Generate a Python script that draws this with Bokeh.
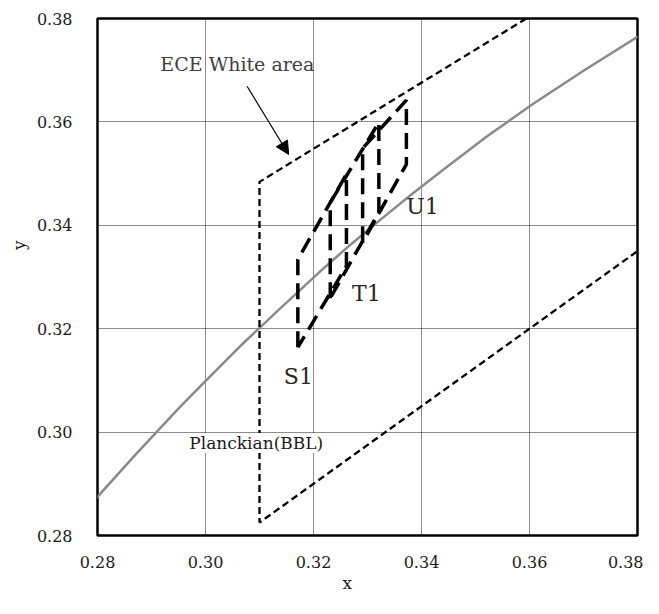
from bokeh.plotting import figure
from bokeh.models import Range1d, FixedTicker, NumeralTickFormatter, Label, Arrow, NormalHead, Title
from bokeh.embed import file_html
from bokeh.resources import INLINE

# ---- data ----
ticks = [0.28, 0.30, 0.32, 0.34, 0.36, 0.38]

# Planckian locus (black body line)
planck_x = [0.2758, 0.2807, 0.2870, 0.2952, 0.3004, 0.3064, 0.3135, 0.3220, 0.3269,
            0.3323, 0.3383, 0.3451, 0.3524, 0.3607, 0.3700, 0.3805]
planck_y = [0.2824, 0.2883, 0.2956, 0.3048, 0.3103, 0.3166, 0.3236, 0.3318, 0.3363,
            0.3410, 0.3461, 0.3516, 0.3574, 0.3635, 0.3699, 0.3768]

# ECE white area boundary
ece_x = [0.3594, 0.3100, 0.3100, 0.3800]
ece_y = [0.3800, 0.3484, 0.2825, 0.3350]

# bins
bin_names = ["S1", "T1", "U1"]
s1_x = [0.3171, 0.3171, 0.3261, 0.3261, 0.3171]
s1_y = [0.3164, 0.3334, 0.3499, 0.3321, 0.3164]
t1_x = [0.3231, 0.3231, 0.3321, 0.3321, 0.3231]
t1_y = [0.3259, 0.3444, 0.3599, 0.3425, 0.3259]
u1_x = [0.3291, 0.3291, 0.3372, 0.3372, 0.3291]
u1_y = [0.3367, 0.3549, 0.3642, 0.3518, 0.3367]

# annotation anchors
bin_label_x = [0.3172, 0.3298, 0.3402]
bin_label_y = [0.3108, 0.3269, 0.3437]
ece_label_xy = (0.3059, 0.3712)
planck_label_xy = (0.3094, 0.2979)
arrow_start = (0.3077, 0.3669)
arrow_end = (0.3154, 0.3537)

FONT = "DejaVu Serif"

p = figure(width=643, height=598,
           x_range=Range1d(0.28, 0.38), y_range=Range1d(0.28, 0.38),
           output_backend="svg", toolbar_location=None,
           min_border_left=97, min_border_right=6,
           min_border_top=18, min_border_bottom=63)

p.background_fill_color = "white"
p.border_fill_color = "white"
p.outline_line_color = "black"
p.outline_line_width = 2.5

for ax in (p.xaxis, p.yaxis):
    ax.ticker = FixedTicker(ticks=ticks)
    ax.formatter = NumeralTickFormatter(format="0.00")
    ax.axis_line_color = None
    ax.major_tick_line_color = None
    ax.minor_tick_line_color = None
    ax.major_tick_out = 0
    ax.major_tick_in = 0
    ax.minor_tick_out = 0
    ax.minor_tick_in = 0
    ax.major_label_text_font = FONT
    ax.major_label_text_font_size = "16px"
    ax.major_label_text_color = "#1a1a1a"
p.xaxis.major_label_standoff = 20
p.yaxis.major_label_standoff = 25

for g in (p.xgrid, p.ygrid):
    g.ticker = FixedTicker(ticks=ticks)
    g.grid_line_color = "#1a1a1a"
    g.grid_line_dash = "1 1"
    g.grid_line_width = 1

# Planckian curve
p.line(planck_x, planck_y, line_color="#8a8a8a", line_width=2.5)

# ECE white area
p.line(ece_x, ece_y, line_color="black", line_width=2.3, line_dash="7 4")

# bins
p.multi_line([s1_x, t1_x, u1_x], [s1_y, t1_y, u1_y],
             line_color="black", line_width=3.5, line_dash="16 8")

for name, lx, ly in zip(bin_names, bin_label_x, bin_label_y):
    p.add_layout(Label(x=lx, y=ly, text=name, text_font=FONT, text_font_size="22px",
                       text_color="#262626", text_align="center", text_baseline="middle"))

p.add_layout(Label(x=ece_label_xy[0], y=ece_label_xy[1], text="ECE White area",
                   text_font=FONT, text_font_size="19px", text_color="#404040",
                   text_align="center", text_baseline="middle"))

p.add_layout(Label(x=planck_label_xy[0], y=planck_label_xy[1], text="Planckian(BBL)",
                   text_font=FONT, text_font_size="17px", text_color="#1a1a1a",
                   text_align="center", text_baseline="middle",
                   background_fill_color="white"))

p.add_layout(Arrow(end=NormalHead(size=13, fill_color="black", line_color="black"),
                   x_start=arrow_start[0], y_start=arrow_start[1],
                   x_end=arrow_end[0], y_end=arrow_end[1],
                   line_color="black", line_width=1.2))

# axis titles
p.add_layout(Title(text="x", align="left", offset=245, standoff=0,
                   text_font=FONT, text_font_size="17px", text_font_style="normal",
                   text_color="#1a1a1a"), "below")
p.add_layout(Title(text="y", align="right", offset=222, standoff=10,
                   text_font=FONT, text_font_size="17px", text_font_style="normal",
                   text_color="#1a1a1a"), "left")

open("out.html", "w").write(file_html(p, INLINE))
